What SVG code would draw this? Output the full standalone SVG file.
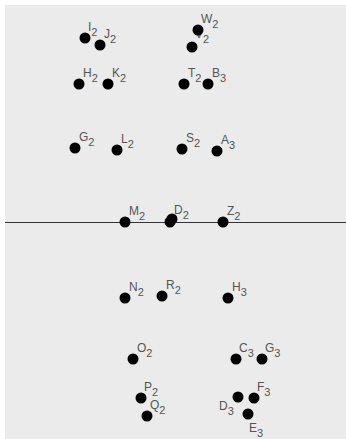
<svg xmlns="http://www.w3.org/2000/svg" width="346" height="439" viewBox="0 0 346 439">
<style>
.d{fill:#000}
.t{font-family:"Liberation Sans",Arial,sans-serif;font-size:12px;fill:#555}
.s{font-size:11px}
</style>
<rect x="0" y="0" width="346" height="439" fill="#fff"/>
<rect x="5" y="5" width="341" height="434" fill="#ebebeb"/>
<g id="connectors">
<line x1="5" y1="222.5" x2="346" y2="222.5" stroke="#333" stroke-width="1"/>
</g>
<g id="I2"><circle class="d" cx="85" cy="38" r="5.5"/><text class="t" x="88" y="31">I<tspan class="s" dy="5">2</tspan></text></g>
<g id="J2"><circle class="d" cx="100" cy="45" r="5.5"/><text class="t" x="104" y="38">J<tspan class="s" dy="5">2</tspan></text></g>
<g id="V2"><circle class="d" cx="192" cy="47" r="5.5"/><text class="t" x="195" y="38">V<tspan class="s" dy="5">2</tspan></text></g>
<g id="W2"><circle class="d" cx="198" cy="30" r="5.5"/><text class="t" x="201" y="23">W<tspan class="s" dy="5">2</tspan></text></g>
<g id="H2"><circle class="d" cx="79" cy="84" r="5.5"/><text class="t" x="83" y="77">H<tspan class="s" dy="5">2</tspan></text></g>
<g id="K2"><circle class="d" cx="108" cy="84" r="5.5"/><text class="t" x="112" y="77">K<tspan class="s" dy="5">2</tspan></text></g>
<g id="T2"><circle class="d" cx="184" cy="84" r="5.5"/><text class="t" x="188" y="77">T<tspan class="s" dy="5">2</tspan></text></g>
<g id="B3"><circle class="d" cx="208" cy="84" r="5.5"/><text class="t" x="212" y="77">B<tspan class="s" dy="5">3</tspan></text></g>
<g id="G2"><circle class="d" cx="75" cy="148" r="5.5"/><text class="t" x="79" y="141">G<tspan class="s" dy="5">2</tspan></text></g>
<g id="L2"><circle class="d" cx="117" cy="150" r="5.5"/><text class="t" x="121" y="143">L<tspan class="s" dy="5">2</tspan></text></g>
<g id="S2"><circle class="d" cx="182" cy="149" r="5.5"/><text class="t" x="186" y="142">S<tspan class="s" dy="5">2</tspan></text></g>
<g id="A3"><circle class="d" cx="217" cy="151" r="5.5"/><text class="t" x="221" y="144">A<tspan class="s" dy="5">3</tspan></text></g>
<g id="M2"><circle class="d" cx="125" cy="222" r="5.5"/><text class="t" x="129" y="215">M<tspan class="s" dy="5">2</tspan></text></g>
<g id="U2"><circle class="d" cx="172" cy="219" r="5.5"/></g>
<g id="D2"><circle class="d" cx="170" cy="222" r="5.5"/><text class="t" x="174" y="214">D<tspan class="s" dy="5">2</tspan></text></g>
<g id="Z2"><circle class="d" cx="223" cy="222" r="5.5"/><text class="t" x="227" y="215">Z<tspan class="s" dy="5">2</tspan></text></g>
<g id="N2"><circle class="d" cx="125" cy="298" r="5.5"/><text class="t" x="129" y="291">N<tspan class="s" dy="5">2</tspan></text></g>
<g id="R2"><circle class="d" cx="162" cy="296" r="5.5"/><text class="t" x="166" y="289">R<tspan class="s" dy="5">2</tspan></text></g>
<g id="H3"><circle class="d" cx="228" cy="298" r="5.5"/><text class="t" x="232" y="291">H<tspan class="s" dy="5">3</tspan></text></g>
<g id="O2"><circle class="d" cx="133" cy="359" r="5.5"/><text class="t" x="137" y="352">O<tspan class="s" dy="5">2</tspan></text></g>
<g id="C3"><circle class="d" cx="236" cy="359" r="5.5"/><text class="t" x="239" y="352">C<tspan class="s" dy="5">3</tspan></text></g>
<g id="G3"><circle class="d" cx="262" cy="359" r="5.5"/><text class="t" x="265" y="352">G<tspan class="s" dy="5">3</tspan></text></g>
<g id="P2"><circle class="d" cx="141" cy="398" r="5.5"/><text class="t" x="144" y="391">P<tspan class="s" dy="5">2</tspan></text></g>
<g id="Q2"><circle class="d" cx="147" cy="416" r="5.5"/><text class="t" x="150" y="409">Q<tspan class="s" dy="5">2</tspan></text></g>
<g id="F3"><circle class="d" cx="254" cy="398" r="5.5"/><text class="t" x="257" y="391">F<tspan class="s" dy="5">3</tspan></text></g>
<g id="D3"><circle class="d" cx="238" cy="397" r="5.5"/><text class="t" x="219" y="410">D<tspan class="s" dy="5">3</tspan></text></g>
<g id="E3"><circle class="d" cx="248" cy="414" r="5.5"/><text class="t" x="249" y="432">E<tspan class="s" dy="5">3</tspan></text></g>
</svg>
